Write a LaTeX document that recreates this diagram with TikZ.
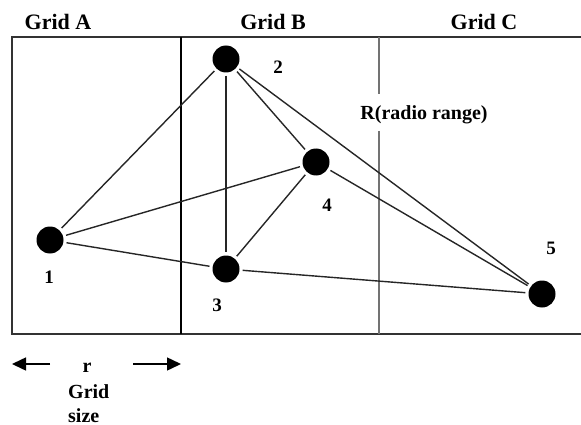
\documentclass[tikz,border=0pt]{standalone}
\usepackage{fontspec}
\setmainfont{Liberation Serif}
\usetikzlibrary{arrows.meta}

\begin{document}
\begin{tikzpicture}[
    x=1pt, y=-1pt,
    sensor/.style={circle, fill=black, inner sep=0pt, minimum size=27pt},
    link/.style={black!85, line width=1.4pt, shorten >=3pt, shorten <=3pt},
    border/.style={black!80, line width=1.5pt},
    gridlbl/.style={font=\fontsize{22}{25}\selectfont\bfseries, inner sep=0pt},
    numlbl/.style={font=\fontsize{19}{22}\selectfont\bfseries, inner sep=0pt},
    txt/.style={font=\fontsize{20}{23}\selectfont\bfseries, inner sep=0pt},
    dimarr/.style={-{Triangle[length=14pt, width=13pt]}, line width=1.5pt},
]
\useasboundingbox (0,0) rectangle (581,425);

% Grid titles
\node[gridlbl] (ga) at (58,22) {Grid A};
\node[gridlbl] (gb) at (273,22) {Grid B};
\node[gridlbl] (gc) at (484,22) {Grid C};

% Frame and dividers
\draw[border] (581,37) -- (12,37) -- (12,334) -- (581,334);
\draw[border, black] (181,37) -- (181,334);
\node[txt] (rr) at (424,115) {R(radio range)};
\draw[border, black!55, line width=2pt] (379,37) -- (379,94);
\draw[border, black!55, line width=2pt] (379,131) -- (379,334);

% Sensor nodes
\node[sensor] (n1) at (50,240) {};
\node[sensor] (n2) at (226,59) {};
\node[sensor] (n3) at (226,269) {};
\node[sensor] (n4) at (316,162) {};
\node[sensor] (n5) at (542,294) {};

\node[numlbl] (l1) at (49,277) {1};
\node[numlbl] (l2) at (278,67) {2};
\node[numlbl] (l3) at (217,305) {3};
\node[numlbl] (l4) at (327,205) {4};
\node[numlbl] (l5) at (551,248) {5};

% Links
\draw[link] (n1) -- (n2);
\draw[link] (n1) -- (n4);
\draw[link] (n1) -- (n3);
\draw[link] (n2) -- (n3);
\draw[link] (n2) -- (n4);
\draw[link] (n2) -- (n5);
\draw[link] (n3) -- (n4);
\draw[link] (n3) -- (n5);
\draw[link] (n4) -- (n5);

% Grid size
\coordinate (ra) at (12,364);
\coordinate (rb) at (181,364);
\coordinate (ra2) at (50,364);
\coordinate (rb2) at (133,364);
\draw[dimarr] (ra2) -- (ra);
\draw[dimarr] (rb2) -- (rb);
\node[txt, anchor=base] (rs) at (87,372) {r};
\node[txt, anchor=base west] (gs1) at (68,398) {Grid};
\node[txt, anchor=base west] (gs2) at (68,422) {size};

\end{tikzpicture}
\end{document}
